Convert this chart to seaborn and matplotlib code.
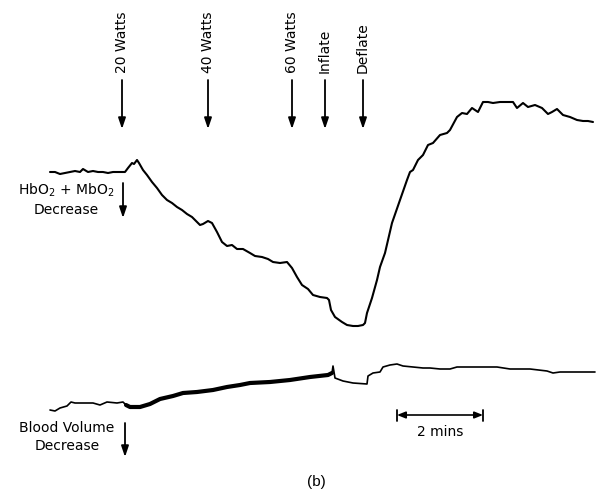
import matplotlib
matplotlib.use("Agg")
import matplotlib.pyplot as plt
import seaborn as sns
import pandas as pd

# ---- data (x = time axis, y = signal in image units, down = decrease)
hb_x = [50, 55, 60, 65, 70, 75, 80, 83, 88, 93, 98, 103, 108, 113, 120, 125, 128, 132, 134, 137, 139,
        143, 147, 152, 157, 162, 167, 172, 177, 182, 187, 192, 197, 200, 203, 208, 212, 217, 222, 227,
        232, 237, 243, 250, 255, 262, 268, 273, 280, 287, 292, 297, 302, 308, 313, 320, 327, 329, 331,
        335, 342, 347, 353, 358, 363, 365, 367, 372, 377, 380, 385, 392, 400, 407, 410, 413, 418, 423,
        428, 433, 440, 447, 450, 457, 462, 467, 472, 478, 483, 488, 493, 500, 508, 513, 517, 523, 528,
        535, 542, 548, 552, 557, 563, 570, 577, 583, 588, 593]
hb_y = [172, 172, 174, 173, 172, 171, 172, 169, 172, 171, 172, 172, 173, 172, 172, 172, 168, 163, 164,
        160, 163, 170, 175, 182, 188, 195, 200, 203, 207, 210, 214, 217, 222, 225, 224, 221, 223, 232,
        242, 246, 245, 249, 249, 253, 256, 257, 259, 262, 263, 262, 268, 277, 285, 289, 295, 297, 298,
        300, 310, 317, 322, 325, 326, 326, 325, 323, 313, 298, 280, 267, 253, 223, 200, 180, 172, 170,
        160, 155, 145, 143, 135, 133, 130, 117, 113, 114, 108, 112, 102, 102, 103, 102, 102, 102, 108,
        103, 107, 105, 108, 114, 112, 109, 115, 117, 120, 121, 121, 122]

bv_pre_x = [50, 55, 60, 67, 71, 75, 83, 93, 100, 107, 117, 123, 126]
bv_pre_y = [410, 411, 408, 406, 402, 403, 403, 403, 405, 402, 403, 402, 405]
bv_band_x = [126, 130, 140, 150, 160, 173, 183, 197, 213, 227, 240, 250, 270, 290, 310, 328, 332]
bv_band_y = [405, 407, 407, 404, 399, 396, 393, 392, 390, 387, 385, 383, 382, 380, 377, 375, 373]
bv_post_x = [332, 333, 335, 343, 353, 367, 368, 373, 380, 383, 390, 397, 403, 413, 423, 430, 440,
             450, 457, 463, 477, 497, 510, 530, 547, 553, 560, 577, 595]
bv_post_y = [373, 366, 378, 381, 383, 384, 376, 373, 372, 367, 365, 364, 366, 367, 368, 368, 369,
             369, 367, 367, 367, 367, 369, 369, 371, 373, 372, 372, 372]

event_labels = ["20 Watts", "40 Watts", "60 Watts", "Inflate", "Deflate"]
event_x = [122, 208, 292, 325, 363]

scale_start = 397
scale_end = 483
scale_label = "2 mins"

# ---- figure
sns.set_style("white")
plt.rcParams["font.family"] = ["DejaVu Sans"]
plt.rcParams["text.color"] = "black"
fig = plt.figure(figsize=(5.96, 4.94), dpi=100)
ax = fig.add_axes([0, 0, 1, 1])

hb = pd.DataFrame({"x": hb_x, "y": hb_y})
sns.lineplot(data=hb, x="x", y="y", sort=False, estimator=None, color="black", lw=1.5, ax=ax)
for xs, ys, lw in [(bv_pre_x, bv_pre_y, 1.2), (bv_band_x, bv_band_y, 3.0), (bv_post_x, bv_post_y, 1.2)]:
    sns.lineplot(data=pd.DataFrame({"x": xs, "y": ys}), x="x", y="y", sort=False,
                 estimator=None, color="black", lw=lw, ax=ax)

ax.set_xlim(0, 596)
ax.set_ylim(494, 0)
ax.axis("off")

arrow_kw = dict(arrowstyle="-|>,head_width=0.22,head_length=0.65", color="black", lw=1.3,
                shrinkA=0, shrinkB=0)

# event markers
for lab, ex in zip(event_labels, event_x):
    ax.annotate("", xy=(ex, 129), xytext=(ex, 80), arrowprops=arrow_kw)
    ax.text(ex, 73, lab, rotation=90, ha="center", va="bottom", fontsize=10, color="black")

# channel labels
ax.text(66, 199, "HbO$_2$ + MbO$_2$\nDecrease", ha="center", va="center",
        multialignment="center", fontsize=10, linespacing=1.35, color="black")
ax.annotate("", xy=(123, 218), xytext=(123, 183), arrowprops=arrow_kw)
ax.text(67, 437, "Blood Volume\nDecrease", ha="center", va="center",
        multialignment="center", fontsize=10, linespacing=1.35, color="black")
ax.annotate("", xy=(125, 457), xytext=(125, 423), arrowprops=arrow_kw)

# scale bar
ax.annotate("", xy=(scale_start, 415), xytext=(scale_end, 415),
            arrowprops=dict(arrowstyle="<|-|>,head_width=0.2,head_length=0.5", color="black",
                            lw=1.2, shrinkA=0, shrinkB=0))
ax.plot([scale_start, scale_start], [410, 421], color="black", lw=1.3)
ax.plot([scale_end, scale_end], [410, 421], color="black", lw=1.3)
ax.text((scale_start + scale_end) / 2, 432, scale_label, ha="center", va="center", fontsize=10,
        color="black")

ax.text(316, 482, "(b)", ha="center", va="center", fontsize=11, family=["Liberation Sans"],
        color="black")

fig.savefig("out.png", dpi=100)
